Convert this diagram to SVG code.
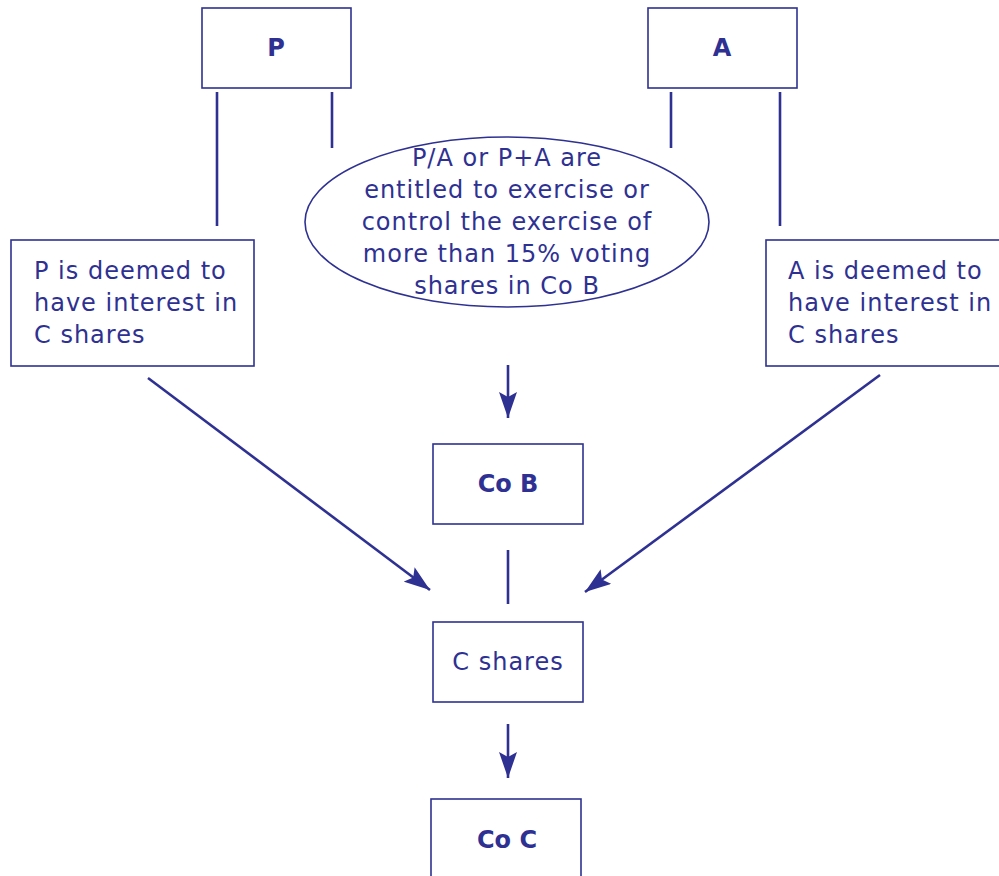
<svg xmlns="http://www.w3.org/2000/svg" width="999" height="876" viewBox="0 0 999 876">
<style>
.box{fill:#fff;stroke:#2e3192;stroke-width:1.6}
.ln{stroke:#2e3192;stroke-width:2.6;fill:none}
.t{font-family:"DejaVu Sans",sans-serif;font-size:24px;fill:#2e3192;letter-spacing:1px}
.b{font-family:"DejaVu Sans",sans-serif;font-size:24px;font-weight:bold;fill:#2e3192;text-anchor:middle}
.m{text-anchor:middle}
</style>
<defs>
<marker id="ah" markerUnits="userSpaceOnUse" markerWidth="28" markerHeight="18" refX="26" refY="9" orient="auto" viewBox="0 0 28 18">
<path d="M0,0 L26,9 L0,18 L5,9 z" fill="#2e3192"/>
</marker>
</defs>
<rect width="999" height="876" fill="#fff"/>
<g id="connectors">
<line class="ln" x1="217" y1="92" x2="217" y2="226"/>
<line class="ln" x1="332" y1="92" x2="332" y2="148"/>
<line class="ln" x1="671" y1="92" x2="671" y2="148"/>
<line class="ln" x1="780" y1="92" x2="780" y2="226"/>
<line class="ln" x1="508" y1="365" x2="508" y2="418" marker-end="url(#ah)"/>
<line class="ln" x1="508" y1="550" x2="508" y2="604"/>
<line class="ln" x1="508" y1="724" x2="508" y2="778" marker-end="url(#ah)"/>
<line class="ln" x1="148" y1="378" x2="430" y2="590" marker-end="url(#ah)"/>
<line class="ln" x1="880" y1="375" x2="585" y2="592" marker-end="url(#ah)"/>
</g>
<g id="nodeP">
<rect class="box" x="202" y="8" width="149" height="80"/>
<text class="b" x="276" y="56">P</text>
</g>
<g id="nodeA">
<rect class="box" x="648" y="8" width="149" height="80"/>
<text class="b" x="722" y="56">A</text>
</g>
<g id="nodeCond">
<ellipse class="box" cx="507" cy="222" rx="202" ry="85"/>
<text class="t m" x="507" y="166">P/A or P+A are</text>
<text class="t m" x="507" y="198">entitled to exercise or</text>
<text class="t m" x="507" y="230">control the exercise of</text>
<text class="t m" x="507" y="262">more than 15% voting</text>
<text class="t m" x="507" y="294">shares in Co B</text>
</g>
<g id="nodePdeemed">
<rect class="box" x="11" y="240" width="243" height="126"/>
<text class="t" x="34" y="279">P is deemed to</text>
<text class="t" x="34" y="311">have interest in</text>
<text class="t" x="34" y="343">C shares</text>
</g>
<g id="nodeAdeemed">
<rect class="box" x="766" y="240" width="240" height="126"/>
<text class="t" x="788" y="279">A is deemed to</text>
<text class="t" x="788" y="311">have interest in</text>
<text class="t" x="788" y="343">C shares</text>
</g>
<g id="nodeCoB">
<rect class="box" x="433" y="444" width="150" height="80"/>
<text class="b" x="508" y="492">Co B</text>
</g>
<g id="nodeCshares">
<rect class="box" x="433" y="622" width="150" height="80"/>
<text class="t m" x="508" y="670">C shares</text>
</g>
<g id="nodeCoC">
<rect class="box" x="431" y="799" width="150" height="90"/>
<text class="b" x="507" y="848">Co C</text>
</g>
</svg>
